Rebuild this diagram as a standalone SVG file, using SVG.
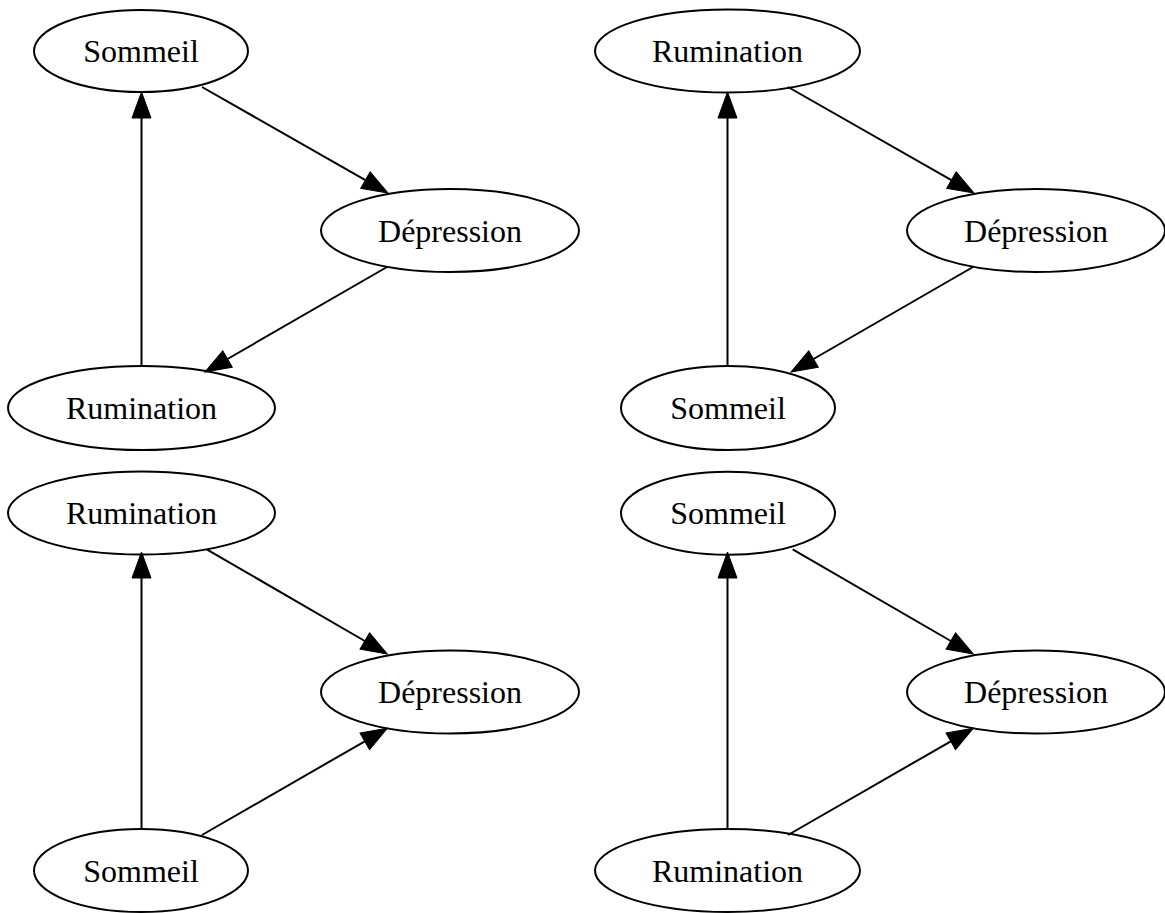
<svg xmlns="http://www.w3.org/2000/svg" width="1165" height="913" viewBox="0 0 1165 913">
<style>
.node ellipse{fill:none;stroke:#000;stroke-width:2}
.node text{font-family:"Liberation Serif","Times New Roman",serif;font-size:32px;fill:#000;text-anchor:middle}
.edges line{stroke:#000;stroke-width:2;marker-end:url(#arr)}
</style>
<defs>
<marker id="arr" markerUnits="userSpaceOnUse" markerWidth="30" markerHeight="22" viewBox="0 -11 28 22" refX="0" refY="0" orient="auto">
<path d="M0,-9.5 L26,0 L0,9.5 z" fill="#000" stroke="#000" stroke-width="1"/>
</marker>
</defs>
<rect width="1165" height="913" fill="#fff"/>

<g id="tl-sommeil" class="node"><ellipse cx="141" cy="51" rx="107" ry="41"/><text x="141" y="62">Sommeil</text></g>
<g id="tl-depression" class="node"><ellipse cx="450" cy="230.5" rx="129" ry="41.5"/><text x="450" y="241.5">Dépression</text></g>
<g id="tl-rumination" class="node"><ellipse cx="141.5" cy="408" rx="133.5" ry="42"/><text x="141.5" y="419">Rumination</text></g>

<g id="tr-rumination" class="node"><ellipse cx="727.5" cy="51" rx="132.5" ry="41.5"/><text x="727.5" y="62">Rumination</text></g>
<g id="tr-depression" class="node"><ellipse cx="1036" cy="230.5" rx="129" ry="41.5"/><text x="1036" y="241.5">Dépression</text></g>
<g id="tr-sommeil" class="node"><ellipse cx="728" cy="408" rx="107" ry="42"/><text x="728" y="419">Sommeil</text></g>

<g id="bl-rumination" class="node"><ellipse cx="141.5" cy="513" rx="133.5" ry="41.5"/><text x="141.5" y="524">Rumination</text></g>
<g id="bl-depression" class="node"><ellipse cx="450" cy="692" rx="129" ry="41.5"/><text x="450" y="703">Dépression</text></g>
<g id="bl-sommeil" class="node"><ellipse cx="141" cy="870.5" rx="107" ry="41.5"/><text x="141" y="881.5">Sommeil</text></g>

<g id="br-sommeil" class="node"><ellipse cx="728" cy="513.3" rx="107" ry="41.5"/><text x="728" y="524.3">Sommeil</text></g>
<g id="br-depression" class="node"><ellipse cx="1036" cy="692" rx="129" ry="41.5"/><text x="1036" y="703">Dépression</text></g>
<g id="br-rumination" class="node"><ellipse cx="727.5" cy="870.5" rx="132.5" ry="41.5"/><text x="727.5" y="881.5">Rumination</text></g>

<g id="connectors" class="edges">
<line x1="141.5" y1="366" x2="141.5" y2="118"/>
<line x1="202" y1="87" x2="365.4" y2="180.1"/>
<line x1="387" y1="267" x2="227.5" y2="359"/>

<line x1="727.5" y1="366" x2="727.5" y2="118"/>
<line x1="788" y1="87" x2="951.4" y2="180.1"/>
<line x1="973" y1="267" x2="813.5" y2="359"/>

<line x1="141.5" y1="828" x2="141.5" y2="578"/>
<line x1="206.7" y1="549.3" x2="364.8" y2="641"/>
<line x1="202" y1="835" x2="364.8" y2="741.3"/>

<line x1="727.5" y1="828" x2="727.5" y2="578"/>
<line x1="792.7" y1="549.3" x2="950.8" y2="641"/>
<line x1="788" y1="835" x2="950.8" y2="741.3"/>
</g>
</svg>
